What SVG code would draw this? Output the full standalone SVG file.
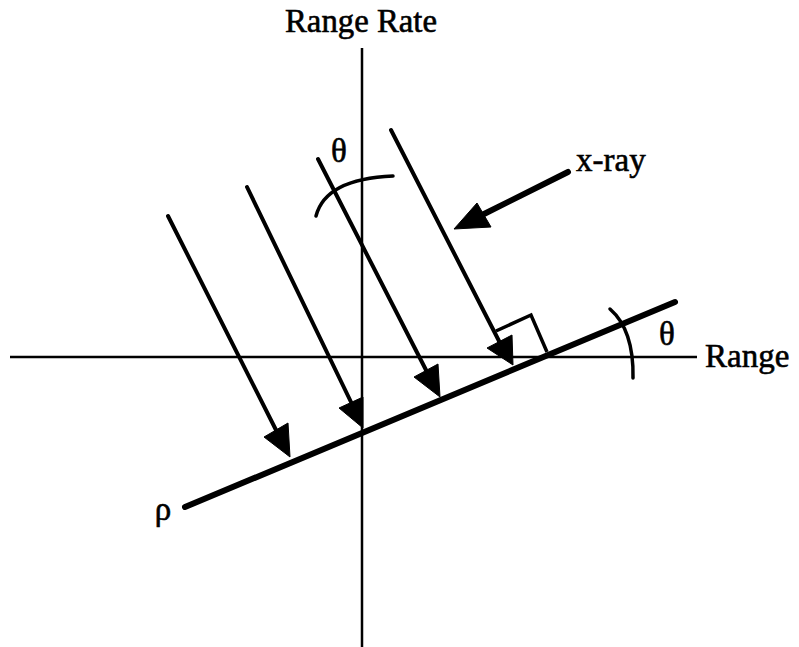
<svg xmlns="http://www.w3.org/2000/svg" width="799" height="647" viewBox="0 0 799 647">
<style>
.t{font-family:"Liberation Serif","Times New Roman",serif;font-size:33px;fill:#000;stroke:#000;stroke-width:0.6}
.ax{stroke:#000;stroke-width:2.5;fill:none}
.ray{stroke:#000;stroke-width:4;fill:none;stroke-linecap:round}
.hd{fill:#000;stroke:#000;stroke-width:1;stroke-linejoin:round}
.arc{stroke:#000;stroke-width:3.5;fill:none;stroke-linecap:round}
</style>
<rect width="799" height="647" fill="#fff"/>
<g id="axes">
<line class="ax" x1="362" y1="48" x2="362" y2="647"/>
<line class="ax" x1="10" y1="357" x2="697" y2="357"/>
</g>
<g id="rho-line">
<line x1="185" y1="507" x2="675" y2="302" stroke="#000" stroke-width="6" stroke-linecap="round"/>
</g>
<g id="connectors">
<line class="ray" x1="168" y1="216" x2="276" y2="430"/>
<polygon class="hd" points="264,437 288,423 290,457"/>
<line class="ray" x1="247" y1="187" x2="351" y2="402"/>
<polygon class="hd" points="339,408 363,397 363,428"/>
<line class="ray" x1="318" y1="159" x2="426" y2="370"/>
<polygon class="hd" points="414,377 438,364 440,397"/>
<line class="ray" x1="391" y1="130" x2="499" y2="341"/>
<polygon class="hd" points="487,348 512,335 513,365"/>
<line x1="568" y1="172" x2="480" y2="216" stroke="#000" stroke-width="6" stroke-linecap="round"/>
<polygon class="hd" points="454,229 477,203 491,227"/>
</g>
<g id="right-angle">
<polyline points="496,331 531,315 547,352" fill="none" stroke="#000" stroke-width="3.5"/>
</g>
<g id="angles">
<path class="arc" d="M316,216 C322,193 345,178 393,176"/>
<path class="arc" d="M610,309 Q634,330 633,378"/>
</g>
<g id="labels">
<text class="t" x="285" y="32" textLength="152" lengthAdjust="spacingAndGlyphs">Range Rate</text>
<text class="t" x="705" y="367">Range</text>
<text class="t" x="576" y="171">x-ray</text>
<text class="t" x="339" y="162" text-anchor="middle">θ</text>
<text class="t" x="667" y="345" text-anchor="middle">θ</text>
<text class="t" x="163" y="520" text-anchor="middle">ρ</text>
</g>
</svg>
